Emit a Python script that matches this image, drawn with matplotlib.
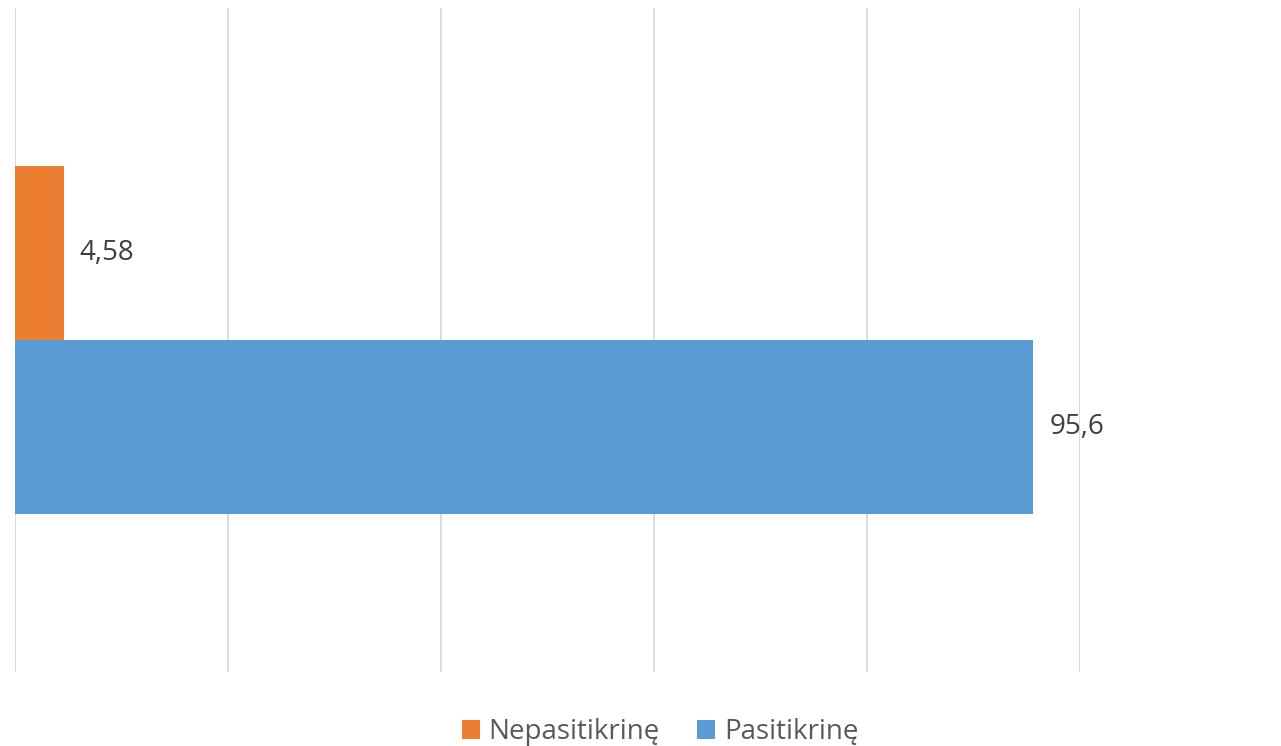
import matplotlib
matplotlib.use("Agg")
import matplotlib.pyplot as plt

series = ["Nepasitikrinę", "Pasitikrinę"]
values = [4.58, 95.6]
value_labels = ["4,58", "95,6"]
colors = ["#ED7D31", "#5B9BD5"]

plt.rcParams['font.family'] = ['Open Sans', 'DejaVu Sans']

fig = plt.figure(figsize=(12.81, 7.46), dpi=100)
ax = fig.add_axes([15 / 1281, 74 / 746, 1065 / 1281, 664 / 746])

# one category, two bars stacked around the middle
y_pos = [0.631, 0.369]
bar_h = 0.262
for i in range(len(series)):
    ax.barh(y_pos[i], values[i], height=bar_h, color=colors[i], label=series[i], zorder=2)
    ax.annotate(value_labels[i], (values[i], y_pos[i]), xytext=(16, 0),
                textcoords='offset pixels', va='center', ha='left',
                fontsize=20, color='#404040', zorder=3)

ax.set_xlim(0, 100)
ax.set_ylim(0, 1)
ax.set_xticks([0, 20, 40, 60, 80, 100])
ax.set_yticks([])
ax.tick_params(axis='x', length=0, labelbottom=False)
ax.grid(axis='x', color='#d9d9d9', linewidth=1.3, zorder=1)
for s in ax.spines.values():
    s.set_visible(False)

handles, labels = ax.get_legend_handles_labels()
fig.legend(handles, labels, loc='center', bbox_to_anchor=(660 / 1281, 1 - 732 / 746),
           ncol=2, frameon=False, fontsize=20, labelcolor='#595959',
           handlelength=0.65, handleheight=0.65, handletextpad=0.32, columnspacing=1.33,
           borderpad=0, borderaxespad=0)

fig.savefig('out.png', dpi=100)
